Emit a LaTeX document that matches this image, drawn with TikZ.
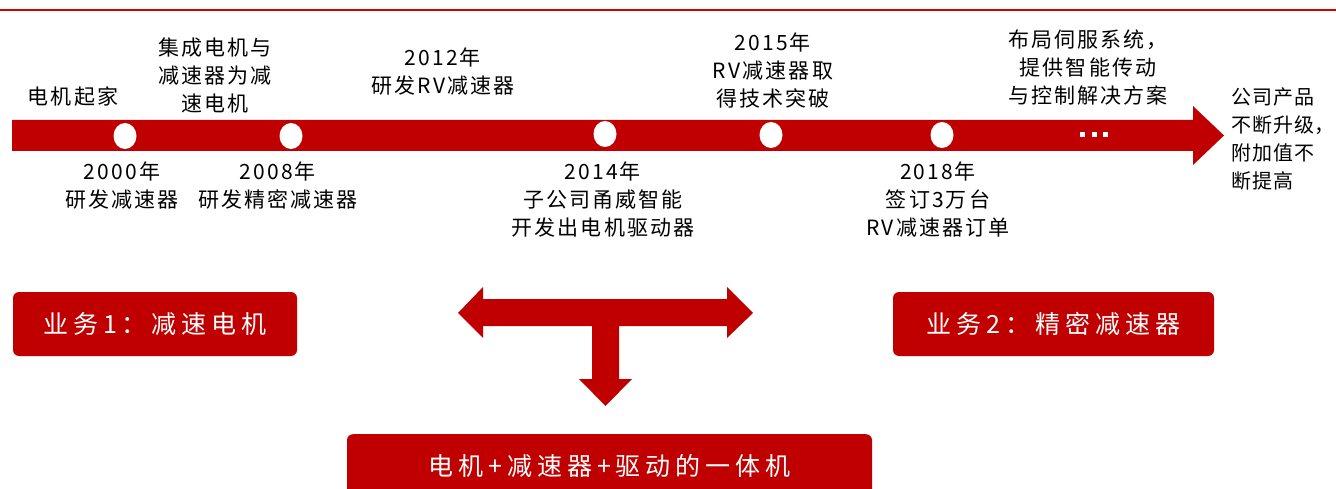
\documentclass[tikz,border=0pt]{standalone}
\usepackage{fontspec}
\setmainfont{Noto Sans CJK SC}[LetterSpace=10]
\newfontfamily\boxfont{Noto Sans CJK SC}[LetterSpace=20]
\newfontfamily\sidefont{Noto Sans CJK SC}[LetterSpace=6]
\usetikzlibrary{shapes.geometric}
\definecolor{dred}{HTML}{C00000}
\definecolor{lred}{HTML}{D20000}
\begin{document}
\begin{tikzpicture}[x=1pt,y=-1pt,
  lbl/.style={align=center, font=\fontsize{21}{28}\selectfont, text=black, inner sep=0pt},
  sidelbl/.style={align=left, font=\sidefont\fontsize{20}{28}\selectfont, text=black, inner sep=0pt},
  bizbox/.style={fill=dred, rounded corners=6pt, text=white, font=\boxfont\fontsize{25}{30}\selectfont, inner sep=0pt, minimum height=64pt},
  milestone/.style={ellipse, fill=white, minimum width=23pt, minimum height=26pt, inner sep=0pt},
  sqdot/.style={rectangle, fill=white, minimum size=5pt, inner sep=0pt}]
\useasboundingbox (0,0) rectangle (1336,489);
\clip (0,0) rectangle (1336,489);
% top rule
\draw[lred, line width=1.5pt] (0,10) -- (1336,10);
% timeline arrow
\fill[dred] (12,120) -- (1193,120) -- (1193,106) -- (1224,135.5) -- (1193,165) -- (1193,151) -- (12,151) -- cycle;
% milestones
\node[milestone] (m1) at (125,136) {};
\node[milestone] (m2) at (291,136) {};
\node[milestone] (m3) at (605,134) {};
\node[milestone] (m4) at (771,135) {};
\node[milestone] (m5) at (942,135) {};
\node[sqdot] (d1) at (1082,135) {};
\node[sqdot] (d2) at (1094,135) {};
\node[sqdot] (d3) at (1105,135) {};
% labels above
\node[lbl] (t1) at (73,97) {电机起家};
\node[lbl] (t2) at (215,75) {集成电机与\\减速器为减\\速电机};
\node[lbl] (t3) at (443,72) {2012年\\研发RV减速器};
\node[lbl] (t4) at (773,70) {2015年\\RV减速器取\\得技术突破};
\node[lbl] (t5) at (1088,68) {布局伺服系统，\\提供智能传动\\与控制解决方案};
\node[sidelbl, anchor=west] (t6) at (1231,139) {公司产品\\不断升级\rlap{，}\\附加值不\\断提高};
% labels below
\node[lbl] (b1) at (122,186) {2000年\\研发减速器};
\node[lbl] (b2) at (278,186) {2008年\\研发精密减速器};
\node[lbl] (b3) at (603,200) {2014年\\子公司甬威智能\\开发出电机驱动器};
\node[lbl] (b4) at (938,200) {2018年\\签订3万台\\RV减速器订单};
% business boxes
\node[bizbox, minimum width=284pt] (biz1) at (155,324) {业务1：减速电机};
\node[bizbox, minimum width=321pt] (biz2) at (1053.5,324) {业务2：精密减速器};
\node[bizbox, minimum width=525pt, anchor=north] (biz3) at (609.5,434) {电机+减速器+驱动的一体机};
% T arrow
\fill[dred] (458,313) -- (483,287) -- (483,299) -- (727,299) -- (727,287) -- (753,313)
  -- (727,338) -- (727,326) -- (619,326) -- (619,379) -- (632,379) -- (605.5,406)
  -- (579,379) -- (592,379) -- (592,326) -- (483,326) -- (483,338) -- cycle;
\end{tikzpicture}
\end{document}
